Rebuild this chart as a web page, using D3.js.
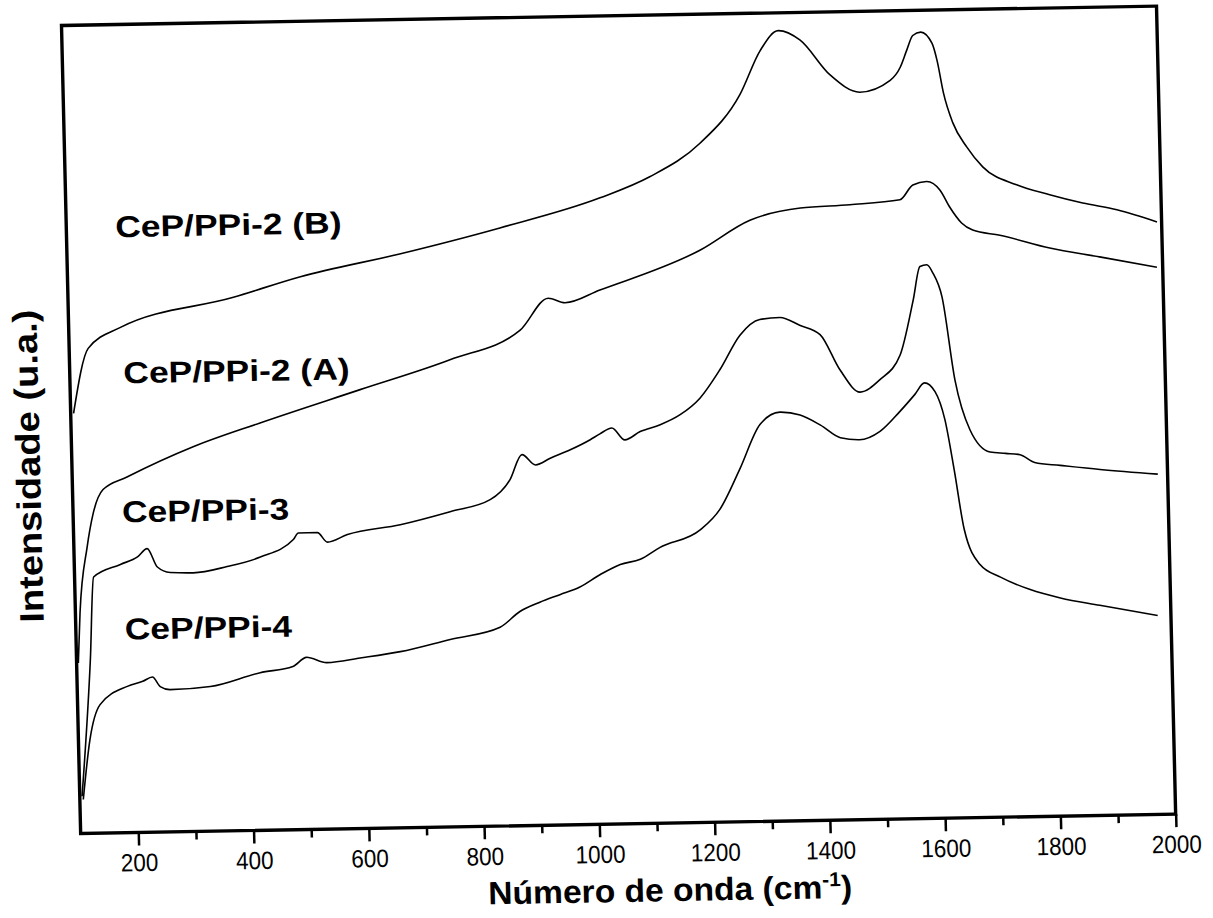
<!DOCTYPE html>
<html>
<head>
<meta charset="utf-8">
<script src="https://cdn.jsdelivr.net/npm/d3@7/dist/d3.min.js"></script>
<style>
  body { margin: 0; background: #fff; }
  text { font-family: "Liberation Sans", Arial, Helvetica, sans-serif; fill: #000; }
</style>
</head>
<body>
<svg id="chart" width="1213" height="918"></svg>
<script>
// Raman spectra, wavenumber (cm-1) vs. intensity (arbitrary units, curves offset)
const waveDomain = [100, 2000];
const intensityDomain = [0, 100];
const majorTicks = [200, 400, 600, 800, 1000, 1200, 1400, 1600, 1800, 2000];
const minorTicks = [300, 500, 700, 900, 1100, 1300, 1500, 1700, 1900];

const seriesNames = ["CeP/PPi-2 (B)", "CeP/PPi-2 (A)", "CeP/PPi-3", "CeP/PPi-4"];

const cepPPi2B = [
  [105, 52.0], [133, 60.0], [189, 62.5], [387, 66.0], [504, 68.4], [677, 71.0],
  [852, 74.0], [1027, 77.5], [1114, 80.0], [1202, 84.0], [1274, 90.0], [1311, 95.4],
  [1343, 97.8], [1380, 96.6], [1431, 92.2], [1482, 90.0], [1535, 91.4], [1553, 93.0],
  [1565, 95.1], [1576, 96.9], [1590, 97.3], [1609, 95.9], [1617, 93.8], [1627, 89.7],
  [1642, 86.0], [1665, 83.0], [1692, 80.5], [1750, 78.2], [1807, 76.9], [1864, 75.8],
  [1923, 74.9], [1992, 73.3]
];

const cepPPi2A = [
  [103, 21.1], [108, 27.3], [123, 35.4], [135, 39.6], [153, 42.5], [195, 44.0],
  [311, 47.6], [428, 50.4], [603, 54.3], [760, 57.8], [883, 61.3], [933, 65.2],
  [962, 64.6], [1023, 66.1], [1198, 70.8], [1286, 74.4], [1374, 75.8], [1460, 76.1],
  [1547, 76.6], [1570, 78.4], [1594, 78.8], [1617, 77.7], [1633, 75.6], [1653, 73.6],
  [1672, 72.7], [1719, 72.0], [1805, 70.3], [1891, 69.1], [1990, 67.7]
];

const cepPPi3 = [
  [104, 4.6], [124, 21.5], [133, 31.7], [180, 33.2], [210, 34.1], [227, 35.1],
  [244, 32.8], [266, 32.1], [306, 32.0], [365, 32.7], [423, 33.8], [481, 35.9],
  [490, 36.7], [523, 36.7], [540, 35.5], [575, 36.4], [667, 37.5], [754, 39.0],
  [824, 40.4], [859, 42.8], [881, 45.9], [904, 44.6], [930, 45.4], [965, 46.4],
  [1000, 47.6], [1017, 48.3], [1038, 49.0], [1060, 47.5], [1087, 48.5], [1122, 49.3],
  [1157, 50.5], [1192, 52.5], [1228, 56.0], [1264, 60.2], [1299, 62.1], [1334, 62.3],
  [1368, 61.3], [1403, 60.1], [1436, 55.7], [1470, 52.9], [1505, 54.4], [1541, 57.4],
  [1566, 64.2], [1579, 68.3], [1591, 68.5], [1601, 67.5], [1616, 64.5], [1635, 54.2],
  [1659, 48.0], [1693, 45.2], [1720, 45.0], [1745, 44.8], [1770, 43.8], [1814, 43.4],
  [1883, 42.8], [1983, 42.1]
];

const cepPPi4 = [
  [106, 4.2], [120, 11.6], [139, 15.9], [187, 18.1], [214, 18.7], [231, 19.2],
  [244, 18.0], [261, 17.6], [331, 17.9], [418, 19.5], [475, 20.2], [499, 21.3],
  [534, 20.6], [592, 21.1], [662, 21.8], [749, 23.2], [836, 24.6], [871, 26.5],
  [906, 27.6], [941, 28.5], [976, 29.4], [1012, 30.9], [1047, 32.1], [1082, 32.7],
  [1116, 34.1], [1187, 36.2], [1222, 38.7], [1258, 43.6], [1295, 49.1], [1330, 50.6],
  [1365, 50.2], [1400, 48.9], [1434, 47.3], [1467, 47.0], [1503, 48.0], [1538, 50.4],
  [1565, 52.5], [1582, 53.9], [1600, 52.8], [1616, 49.3], [1630, 43.1], [1645, 35.7],
  [1671, 31.3], [1706, 29.7], [1757, 28.1], [1809, 27.0], [1877, 26.0], [1977, 24.6]
];

const seriesData = [cepPPi2B, cepPPi2A, cepPPi3, cepPPi4];

// Label anchors in plot units (wavenumber, intensity)
const labelAnchors = [[185, 73.7], [193, 55.6], [185, 38.4], [185, 23.9]];

// Plot frame geometry; the whole figure sits slightly tilted on the page
const W = 1095, H = 808;
const svg = d3.select("#chart");
const g = svg.append("g")
  .attr("transform", "matrix(1,-0.0177,0.0237,1,61.5,25.5)");

const x = d3.scaleLinear().domain(waveDomain).range([0, W]);
const y = d3.scaleLinear().domain(intensityDomain).range([H, 0]);

// spectra
const line = d3.line().curve(d3.curveMonotoneX).x(d => x(d[0])).y(d => y(d[1]));
g.selectAll("path.spectrum")
  .data(seriesData)
  .join("path")
  .attr("class", "spectrum")
  .attr("d", line)
  .attr("fill", "none")
  .attr("stroke", "#000")
  .attr("stroke-width", 1.6)
  .attr("stroke-linejoin", "round");

// frame
g.append("rect")
  .attr("x", 0).attr("y", 0).attr("width", W).attr("height", H)
  .attr("fill", "none").attr("stroke", "#000").attr("stroke-width", 3.4);

// bottom axis: minor ticks, then labelled major ticks
const minorAxis = d3.axisBottom(x).tickValues(minorTicks).tickSize(8).tickFormat("");
const majorAxis = d3.axisBottom(x).tickValues(majorTicks).tickSize(13).tickPadding(8)
  .tickFormat(d3.format("d"));

const gMinor = g.append("g").attr("transform", `translate(0,${H})`).call(minorAxis);
const gMajor = g.append("g").attr("transform", `translate(0,${H})`).call(majorAxis);
[gMinor, gMajor].forEach(a => {
  a.select(".domain").remove();
  a.selectAll(".tick line").attr("stroke", "#000").attr("stroke-width", 2.5);
});
gMajor.selectAll(".tick text")
  .attr("font-size", 25)
  .attr("fill", "#000")
  .style("font-family", '"Liberation Sans", Arial, sans-serif');

// stretch helper so lettering reaches its set width
function stretch(sel, factor) {
  sel.each(function () {
    const len = this.getComputedTextLength();
    d3.select(this).attr("textLength", len * factor).attr("lengthAdjust", "spacingAndGlyphs");
  });
}
stretch(gMajor.selectAll(".tick text"), 0.9);

// series labels
g.selectAll("text.series-label")
  .data(seriesNames)
  .join("text")
  .attr("class", "series-label")
  .attr("x", (d, i) => x(labelAnchors[i][0]))
  .attr("y", (d, i) => y(labelAnchors[i][1]))
  .attr("font-size", 30)
  .attr("font-weight", "bold")
  .text(d => d)
  .call(stretch, 1.18);

// x title with superscript
const xt = g.append("text")
  .attr("x", 588).attr("y", H + 78)
  .attr("text-anchor", "middle")
  .attr("font-size", 32)
  .attr("font-weight", "bold")
  .attr("transform", `translate(588,0) scale(1.05,1) translate(-588,0)`);
xt.append("tspan").text("Número de onda (cm");
xt.append("tspan").text("-1").attr("font-size", 20).attr("dy", -12);
xt.append("tspan").text(")").attr("dy", 12);

// y title
g.append("text")
  .attr("transform", `translate(-32,${440}) rotate(-90)`)
  .attr("text-anchor", "middle")
  .attr("font-size", 34)
  .attr("font-weight", "bold")
  .text("Intensidade (u.a.)")
  .call(stretch, 1.12);
</script>
</body>
</html>
